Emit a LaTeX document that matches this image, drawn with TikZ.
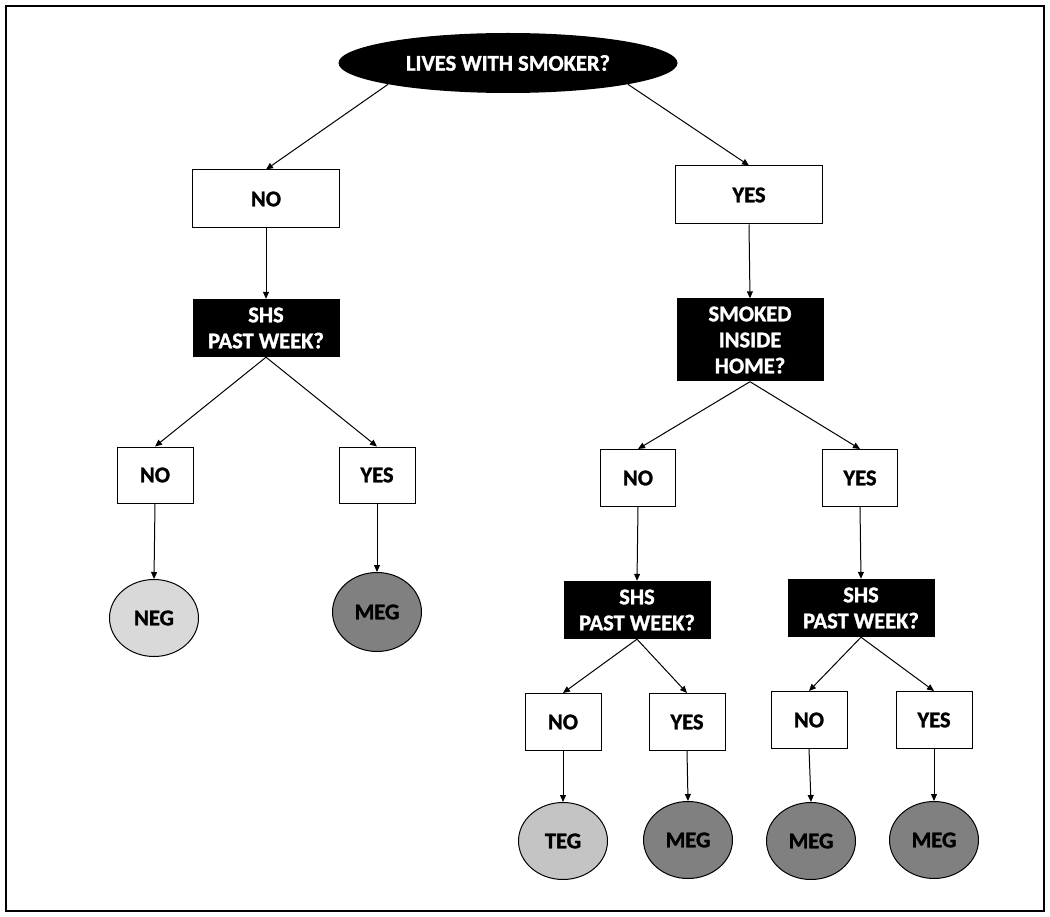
\documentclass[tikz,border=0pt]{standalone}
\usepackage{fontspec}
\setmainfont{Carlito}[BoldFeatures={FakeBold=1.3}]
\usetikzlibrary{shapes.geometric,arrows.meta}
\definecolor{neggray}{HTML}{D9D9D9}
\definecolor{teggray}{HTML}{C4C4C4}
\definecolor{meggray}{HTML}{808080}
\tikzset{
  txt/.style={font=\fontsize{22.5}{26}\selectfont\bfseries, align=center, inner sep=0pt},
  ansbox/.style={txt, draw=black, line width=1pt, fill=white, rectangle, minimum width=76pt, minimum height=56pt},
  widebox/.style={txt, draw=black, line width=1pt, fill=white, rectangle, minimum width=147pt, minimum height=58pt},
  qbox/.style={txt, fill=black, text=white, rectangle, minimum width=147pt, minimum height=58pt},
  outcome/.style={txt, draw=black, line width=1pt, ellipse, minimum width=89pt, minimum height=77pt},
  arr/.style={line width=1pt, -{Triangle[length=7pt,width=6pt]}}
}
\begin{document}
\begin{tikzpicture}[x=1pt,y=-1pt]
\useasboundingbox (0,0) rectangle (1050,917);
\draw[line width=2.2pt] (6,6) rectangle (1044,911);

\node[txt, ellipse, fill=black, text=white, minimum width=339pt, minimum height=60pt] (top) at (508,63) {LIVES WITH SMOKER?};

\node[widebox] (no1) at (266,199) {NO};
\node[widebox] (yes1) at (749,195) {YES};

\node[qbox] (shsL) at (266,328) {SHS\\PAST WEEK?};
\node[qbox, minimum height=83pt] (smoked) at (750,340) {SMOKED\\INSIDE\\HOME?};

\node[ansbox] (noL) at (155,475) {NO};
\node[ansbox] (yesL) at (377,475) {YES};
\node[ansbox, minimum width=75pt, minimum height=57pt] (noR) at (638,478) {NO};
\node[ansbox, minimum width=75pt, minimum height=57pt] (yesR) at (860,478) {YES};

\node[outcome, fill=neggray, minimum height=77pt] (neg) at (154,618) {NEG};
\node[outcome, fill=meggray, minimum height=79pt] (megL) at (377,612) {MEG};

\node[qbox] (shsM) at (637,610) {SHS\\PAST WEEK?};
\node[qbox] (shsR) at (861,608) {SHS\\PAST WEEK?};

\node[ansbox, minimum height=57pt] (no2) at (563,722) {NO};
\node[ansbox, minimum height=57pt] (yes2) at (687,722) {YES};
\node[ansbox, minimum height=57pt] (no3) at (809,720) {NO};
\node[ansbox, minimum height=57pt] (yes3) at (934,720) {YES};

\node[outcome, fill=teggray] (teg) at (563,841) {TEG};
\node[outcome, fill=meggray] (meg1) at (688,840) {MEG};
\node[outcome, fill=meggray] (meg2) at (811,841) {MEG};
\node[outcome, fill=meggray] (meg3) at (934,840) {MEG};

\draw[arr] (top.south west) -- (no1.north);
\draw[arr] (top.south east) -- (yes1.north);
\draw[arr] (no1.south) -- (shsL.north);
\draw[arr] (yes1.south) -- (smoked.north);
\draw[arr] (shsL.south) -- (noL.north);
\draw[arr] (shsL.south) -- (yesL.north);
\draw[arr] (noL.south) -- (neg.north);
\draw[arr] (yesL.south) -- (megL.north);
\draw[arr] (smoked.south) -- (noR.north);
\draw[arr] (smoked.south) -- (yesR.north);
\draw[arr] (noR.south) -- (shsM.north);
\draw[arr] (yesR.south) -- (shsR.north);
\draw[arr] (shsM.south) -- (no2.north);
\draw[arr] (shsM.south) -- (yes2.north);
\draw[arr] (shsR.south) -- (no3.north);
\draw[arr] (shsR.south) -- (yes3.north);
\draw[arr] (no2.south) -- (teg.north);
\draw[arr] (yes2.south) -- (meg1.north);
\draw[arr] (no3.south) -- (meg2.north);
\draw[arr] (yes3.south) -- (meg3.north);
\end{tikzpicture}
\end{document}
